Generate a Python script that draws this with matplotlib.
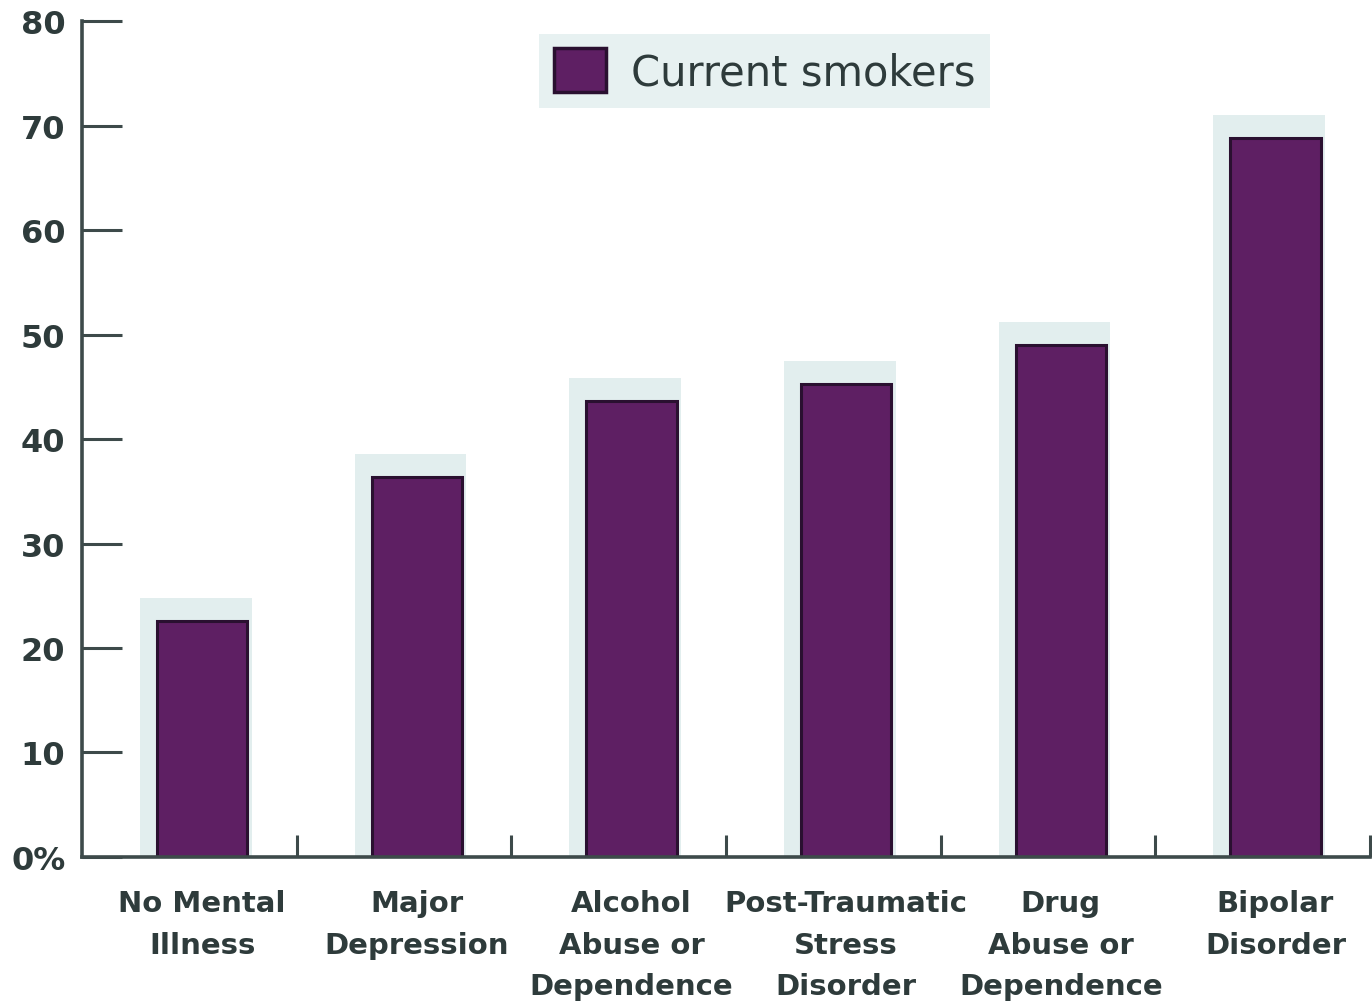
import numpy as np
import matplotlib.pyplot as plt
from matplotlib.ticker import FixedLocator

# share of current smokers by mental illness category (%)
categories = ["No Mental\nIllness", "Major\nDepression", "Alcohol\nAbuse or\nDependence",
              "Post-Traumatic\nStress\nDisorder", "Drug\nAbuse or\nDependence", "Bipolar\nDisorder"]
smokers = [22.6, 36.4, 43.6, 45.3, 49.0, 68.8]
y_ticks = [0, 10, 20, 30, 40, 50, 60, 70, 80]
y_labels = ["0%", "10", "20", "30", "40", "50", "60", "70", "80"]

bar_color = "#5e1f63"
edge_color = "#2a1030"
axis_color = "#3d4a4a"
text_color = "#2e3b3b"
halo_color = "#e2eeee"

fig = plt.figure(figsize=(13.72, 10.03), dpi=100)
ax = fig.add_axes([0.0598, 0.1446, 0.9387, 0.8334])

x = np.arange(len(categories))
# soft halo behind each bar
ax.bar(x - 0.03, np.array(smokers) + 2.2, width=0.52, color=halo_color, zorder=1)
ax.bar(x, smokers, width=0.42, color=bar_color, edgecolor=edge_color, linewidth=2.2,
       zorder=2, label="Current smokers")

ax.set_xlim(-0.56, 5.44)
ax.set_ylim(0, 80)

ax.set_yticks(y_ticks)
ax.set_yticklabels(y_labels, fontsize=23, fontweight="bold", color=text_color)
ax.tick_params(axis="y", direction="in", length=29, width=2.2, color=axis_color, pad=12)

ax.set_xticks(x)
ax.set_xticklabels(categories, fontsize=21, fontweight="bold", color=text_color,
                   linespacing=1.62)
ax.tick_params(axis="x", which="major", length=0, pad=23)
ax.xaxis.set_minor_locator(FixedLocator(x + 0.44))
ax.tick_params(axis="x", which="minor", direction="in", length=16, width=2.2, color=axis_color)

for side in ["top", "right"]:
    ax.spines[side].set_visible(False)
for side in ["left", "bottom"]:
    ax.spines[side].set_color(axis_color)
    ax.spines[side].set_linewidth(2.6)

leg = ax.legend(loc="upper center", bbox_to_anchor=(0.53, 1.01), fontsize=30,
                frameon=True, fancybox=False, handlelength=1.25, handleheight=1.25,
                borderpad=0.35, handletextpad=0.6, labelcolor=text_color)
leg.get_frame().set_facecolor(halo_color)
leg.get_frame().set_edgecolor("none")
for handle in leg.legend_handles:
    handle.set_linewidth(2.5)

fig.savefig("out.png", dpi=100)
